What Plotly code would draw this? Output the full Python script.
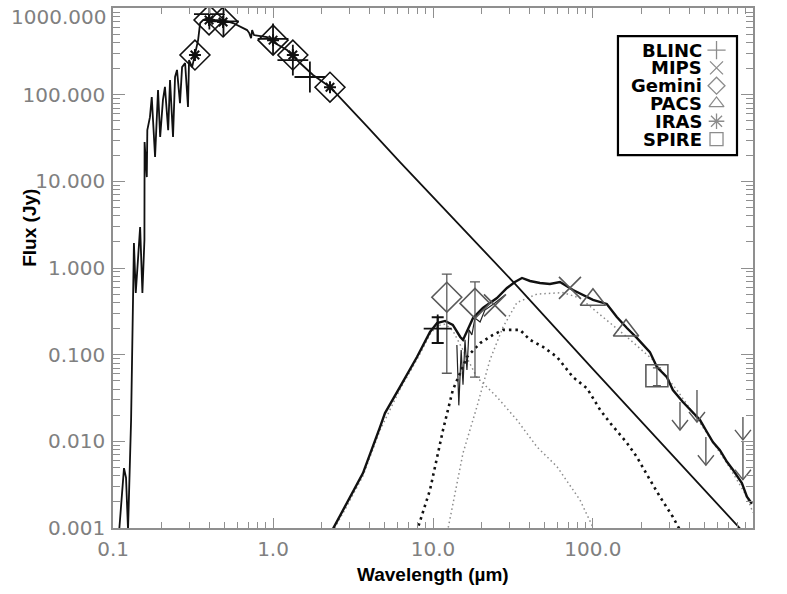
import plotly.graph_objects as go

# ---------------- data ----------------
# stellar photosphere model
phot_lam = [0.109, 0.117, 0.1205, 0.124, 0.1296, 0.1334, 0.135, 0.1386, 0.142, 0.1476,
            0.1525, 0.157, 0.1574, 0.1625, 0.1637, 0.170, 0.1745, 0.183, 0.191, 0.197,
            0.205, 0.211, 0.221, 0.227, 0.237, 0.244, 0.251, 0.262, 0.270, 0.282,
            0.294, 0.2985, 0.312, 0.3255, 0.340, 0.350, 0.365, 0.393, 0.434, 0.487,
            0.562, 0.688, 0.71, 0.729, 0.74, 0.76, 0.917, 1.0, 1.223, 1.475,
            1.778, 2.27, 3.03, 3.87, 6.22, 33.0, 100.0, 300.0, 900.0]
phot_flux = [0.0009, 0.0049, 0.0038, 0.00095, 0.0176, 0.303, 1.94, 0.515, 0.95, 2.97,
             0.515, 2.1, 28.4, 11.2, 39, 55, 94, 19.1, 113, 32.5,
             87, 123, 39, 148, 32.5, 160, 193, 80, 208, 232,
             72, 251, 208, 303, 427, 671, 727, 767, 727, 727,
             671, 557, 514, 450, 557, 488, 462, 405, 328, 232,
             169, 123, 70, 43, 16.7, 0.64, 0.068, 0.0075, 0.00084]

# total excess model (thick line)
tot_lam = [2.35, 2.90, 3.65, 4.67, 5.01, 6.22, 7.94, 9.58, 10.6, 11.9, 13.3, 14.8, 15.4,
           17.8, 20.5, 25.1, 29.0, 32.5, 36.0, 40.4, 46.6, 53.8, 62.2, 75, 100, 122,
           141, 163, 188, 227, 251, 290, 316, 365, 422, 467, 516, 562, 622, 688, 750,
           853, 917, 986]
tot_flux = [0.00095, 0.00195, 0.0043, 0.0147, 0.0212, 0.0424, 0.094, 0.183, 0.232, 0.245,
            0.22, 0.16, 0.148, 0.265, 0.346, 0.45, 0.588, 0.69, 0.767, 0.708, 0.671,
            0.653, 0.69, 0.557, 0.428, 0.385, 0.272, 0.203, 0.156, 0.107, 0.072, 0.055,
            0.039, 0.0284, 0.0212, 0.0176, 0.0128, 0.0098, 0.0079, 0.0058, 0.0047,
            0.0033, 0.0023, 0.0019]

# IRS spectrum (thin spiky segment)
irs_lam = [14.1, 14.5, 15.0, 15.4, 15.85, 16.3, 16.8, 17.5, 18.3, 19.7, 21.1, 24.4, 28.2]
irs_flux = [0.129, 0.026, 0.113, 0.045, 0.148, 0.0665, 0.193, 0.169, 0.265, 0.238, 0.327,
            0.394, 0.488]

# hot dust component (fine dotted)
hot_lam = [2.35, 2.90, 3.65, 4.67, 6.22, 7.94, 9.58, 10.6, 11.9, 13.3, 15.4, 18.8, 25.1,
           33.5, 44.7, 59.6, 83, 100, 110]
hot_flux = [0.0009, 0.0018, 0.0040, 0.0135, 0.040, 0.088, 0.172, 0.215, 0.225, 0.19,
            0.113, 0.055, 0.0325, 0.0176, 0.0086, 0.0051, 0.0021, 0.00103, 0.0007]

# warm dust component (bold dotted)
warm_lam = [7.9, 9.58, 11.55, 13.3, 16.3, 19.7, 23.7, 27.4, 35.0, 40.4, 48.7, 59.6, 75,
            91.7, 111, 128, 163, 188, 227, 262, 316, 355]
warm_flux = [0.0009, 0.00275, 0.0135, 0.039, 0.094, 0.136, 0.169, 0.193, 0.193, 0.148,
             0.123, 0.094, 0.055, 0.041, 0.023, 0.0163, 0.0096, 0.0066, 0.0036, 0.0023,
             0.00134, 0.0009]

# cold dust component (fine dotted)
cold_lam = [12.3, 15.4, 18.8, 22.7, 27.4, 33.5, 44.7, 64.9, 83, 100, 163, 237, 335, 467,
            688, 917, 1000]
cold_flux = [0.0009, 0.0073, 0.0249, 0.087, 0.208, 0.40, 0.50, 0.52, 0.45, 0.34, 0.16,
             0.087, 0.039, 0.0163, 0.0056, 0.0023, 0.0015]

# optical / near-IR photometry (black)
opt_lam = [0.325, 0.398, 0.487, 1.0, 1.33, 2.27]
opt_flux = [287, 728, 690, 426, 287, 122]
optplus_lam = [0.40, 0.49, 1.0, 1.33, 1.70]
optplus_flux = [850, 700, 440, 250, 160]

# BLINC
blinc_lam = [10.7]
blinc_flux = [0.20]
blinc_hi = [0.27]
blinc_lo = [0.136]
# Gemini
gem_lam = [12.2, 18.3]
gem_flux = [0.46, 0.39]
gem_hi = [0.85, 0.69]
gem_lo = [0.061, 0.055]
# MIPS
mips_lam = [24.4, 71.8]
mips_flux = [0.37, 0.59]
# PACS
pacs_lam = [100, 161]
pacs_flux = [0.43, 0.19]
# SPIRE
spire_lam = [251]
spire_flux = [0.057]
spire_hi = [0.0705]
spire_lo = [0.044]
# upper limits (arrow top value and arrow tip value)
ul_lam = [350, 447, 508, 866, 866]
ul_top = [0.0284, 0.039, 0.0112, 0.0191, 0.0098]
ul_tip = [0.0135, 0.0167, 0.0053, 0.0104, 0.0036]

legend_names = ["BLINC", "MIPS", "Gemini", "PACS", "IRAS", "SPIRE"]
legend_symbols = ["cross-thin", "x-thin", "diamond-open", "triangle-up-open",
                  "asterisk", "square-open"]

ytick_vals = [0.001, 0.01, 0.1, 1, 10, 100, 1000]
ytick_text = ["0.001", "0.010", "0.100", "1.000", "10.000", "100.000", ""]
top_label = "1000.000"
xtick_vals = [0.1, 1, 10, 100, 1000]
xtick_text = ["0.1", "1.0", "10.0", "100.0", "1000.0"]

# ---------------- figure ----------------
GRAY = "#5a5a5a"
LGRAY = "#8c8c8c"
AXC = "#8f8f8f"

fig = go.Figure()

# model curves
fig.add_trace(go.Scatter(x=hot_lam, y=hot_flux, mode="lines",
                         line=dict(color=LGRAY, width=1.5, dash="1.5px,3px")))
fig.add_trace(go.Scatter(x=cold_lam, y=cold_flux, mode="lines",
                         line=dict(color=LGRAY, width=1.5, dash="1.5px,3px")))
fig.add_trace(go.Scatter(x=warm_lam, y=warm_flux, mode="lines",
                         line=dict(color="#111111", width=2.6, dash="2.5px,4px")))
fig.add_trace(go.Scatter(x=phot_lam, y=phot_flux, mode="lines",
                         line=dict(color="#111111", width=1.8)))
fig.add_trace(go.Scatter(x=irs_lam, y=irs_flux, mode="lines",
                         line=dict(color="#222222", width=1.2)))
fig.add_trace(go.Scatter(x=tot_lam, y=tot_flux, mode="lines",
                         line=dict(color="#111111", width=2.4)))

# optical photometry
fig.add_trace(go.Scatter(x=opt_lam, y=opt_flux, mode="markers",
                         marker=dict(symbol="diamond-open", size=23, color="#111111",
                                     line=dict(width=1.6, color="#111111"))))
fig.add_trace(go.Scatter(x=opt_lam, y=opt_flux, mode="markers",
                         marker=dict(symbol="asterisk", size=10, color="#111111",
                                     line=dict(width=2, color="#111111"))))
fig.add_trace(go.Scatter(x=optplus_lam, y=optplus_flux, mode="markers",
                         marker=dict(symbol="cross-thin", size=22, color="#111111",
                                     line=dict(width=1.8, color="#111111"))))

# Gemini
fig.add_trace(go.Scatter(
    x=gem_lam, y=gem_flux, mode="markers",
    marker=dict(symbol="diamond-open", size=23, color=GRAY, line=dict(width=1.6, color=GRAY)),
    error_y=dict(type="data", symmetric=False,
                 array=[h - f for h, f in zip(gem_hi, gem_flux)],
                 arrayminus=[f - l for f, l in zip(gem_flux, gem_lo)],
                 color=GRAY, thickness=1.3, width=5)))
# BLINC
fig.add_trace(go.Scatter(
    x=blinc_lam, y=blinc_flux, mode="markers",
    marker=dict(symbol="cross-thin", size=20, color="#111111", line=dict(width=1.8, color="#111111")),
    error_y=dict(type="data", symmetric=False,
                 array=[h - f for h, f in zip(blinc_hi, blinc_flux)],
                 arrayminus=[f - l for f, l in zip(blinc_flux, blinc_lo)],
                 color="#111111", thickness=2, width=6)))
# MIPS
fig.add_trace(go.Scatter(x=mips_lam, y=mips_flux, mode="markers",
                         marker=dict(symbol="x-thin", size=22, color=GRAY,
                                     line=dict(width=1.6, color=GRAY))))
# PACS
fig.add_trace(go.Scatter(x=pacs_lam, y=pacs_flux, mode="markers",
                         marker=dict(symbol="triangle-up-open", size=22, color=GRAY,
                                     line=dict(width=1.6, color=GRAY))))
# SPIRE
fig.add_trace(go.Scatter(
    x=spire_lam, y=spire_flux, mode="markers",
    marker=dict(symbol="square-open", size=22, color=GRAY, line=dict(width=1.6, color=GRAY)),
    error_y=dict(type="data", symmetric=False,
                 array=[h - f for h, f in zip(spire_hi, spire_flux)],
                 arrayminus=[f - l for f, l in zip(spire_flux, spire_lo)],
                 color=GRAY, thickness=1.3, width=4)))

# upper-limit arrows
HW = 10 ** 0.05   # head half-width factor (log space)
HH = 10 ** 0.115  # head height factor
ax_x, ax_y = [], []
for lam, top, tip in zip(ul_lam, ul_top, ul_tip):
    ax_x += [lam, lam, None, lam / HW, lam, lam * HW, None]
    ax_y += [top, tip, None, tip * HH, tip, tip * HH, None]
fig.add_trace(go.Scatter(x=ax_x, y=ax_y, mode="lines",
                         line=dict(color=GRAY, width=1.4)))

# custom legend (symbols on the right of right-aligned names)
n = len(legend_names)
row_y = [0.919 - i * 0.0342 for i in range(n)]
fig.add_trace(go.Scatter(x=[0.943] * n, y=row_y, mode="markers", xaxis="x2", yaxis="y2",
                         marker=dict(symbol=legend_symbols, size=13, color=LGRAY,
                                     line=dict(width=1.3, color=LGRAY))))
for name, yy in zip(legend_names, row_y):
    fig.add_annotation(x=0.924, y=yy, xref="paper", yref="paper", text=name,
                       showarrow=False, xanchor="right", yanchor="middle", height=17,
                       font=dict(family="DejaVu Sans", size=18, color="#000000",
                                 weight="bold"))
fig.add_shape(type="rect", xref="paper", yref="paper", x0=0.789, x1=0.975,
              y0=0.717, y1=0.946, line=dict(color="#000000", width=2.2),
              fillcolor="white", layer="below")

tickfont = dict(family="DejaVu Sans", size=20, color="#808080")

# top y label (IDL draws it shifted down to stay inside the page)
fig.add_annotation(x=-0.008, y=0.983, xref="paper", yref="paper", text=top_label,
                   showarrow=False, xanchor="right", yanchor="middle", font=tickfont)

# axis titles
fig.add_annotation(x=0.5, y=-0.090, xref="paper", yref="paper",
                   text="Wavelength (µm)", showarrow=False,
                   xanchor="center", yanchor="middle",
                   font=dict(family="Liberation Sans", size=19, color="#000000", weight="bold"))
fig.add_annotation(x=-0.130, y=0.577, xref="paper", yref="paper",
                   text="Flux (Jy)", showarrow=False, textangle=-90,
                   xanchor="center", yanchor="middle",
                   font=dict(family="Liberation Sans", size=19, color="#000000", weight="bold"))

fig.update_layout(
    width=787, height=594,
    margin=dict(l=113, r=34, t=8, b=66),
    paper_bgcolor="white", plot_bgcolor="white",
    showlegend=False,
    xaxis=dict(type="log", range=[-1.0005, 3.0005], tickmode="array", tickvals=xtick_vals,
               ticktext=xtick_text, ticks="inside", ticklen=10, tickwidth=1.2,
               tickcolor=AXC, showline=True, linecolor=AXC, linewidth=1.5,
               mirror="allticks", showgrid=False, zeroline=False, tickfont=tickfont,
               ticklabelstandoff=2, automargin=False,
               minor=dict(ticks="inside", ticklen=6, tickwidth=1.1, tickcolor=AXC,
                          dtick="D1", showgrid=False)),
    yaxis=dict(type="log", range=[-3.0005, 3.0005], tickmode="array", tickvals=ytick_vals,
               ticktext=ytick_text, ticks="inside", ticklen=12, tickwidth=1.2,
               tickcolor=AXC, showline=True, linecolor=AXC, linewidth=1.5,
               mirror="allticks", showgrid=False, zeroline=False, tickfont=tickfont,
               ticklabelstandoff=2, automargin=False,
               minor=dict(ticks="inside", ticklen=7, tickwidth=1.1, tickcolor=AXC,
                          dtick="D1", showgrid=False)),
    xaxis2=dict(range=[0, 1], overlaying="x", visible=False, showgrid=False),
    yaxis2=dict(range=[0, 1], overlaying="y", visible=False, showgrid=False),
)

fig.write_html("out.html", config={"displayModeBar": False},
               post_script="document.body.style.margin='0';document.body.style.overflow='hidden';")
